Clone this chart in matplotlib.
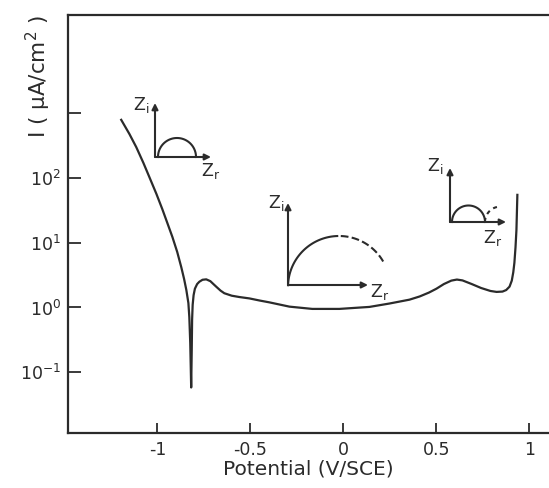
import numpy as np
import matplotlib
matplotlib.use('Agg')
import matplotlib.pyplot as plt

plt.rcParams['font.family'] = 'DejaVu Sans'
plt.rcParams['mathtext.default'] = 'regular'

# courbe de polarisation, I en uA/cm2
potentiel = [-1.194, -1.150, -1.113, -1.075, -1.043, -1.005, -0.973, -0.945, -0.919,
             -0.893, -0.871, -0.856, -0.844, -0.833, -0.828, -0.823, -0.818,
             -0.815, -0.813, -0.810, -0.805, -0.798, -0.786, -0.774, -0.757, -0.737,
             -0.715, -0.695, -0.683, -0.660, -0.640, -0.600, -0.559, -0.505, -0.450,
             -0.398, -0.290, -0.167, -0.022, 0.140, 0.247, 0.355, 0.410, 0.460,
             0.500, 0.540, 0.580, 0.610, 0.640, 0.690, 0.740, 0.790, 0.823, 0.855,
             0.875, 0.893, 0.905, 0.913, 0.919, 0.925, 0.930, 0.935]
courant = [794, 480, 300, 172, 104, 57, 33, 19.8, 12.3,
           7.2, 4.17, 2.75, 1.86, 1.17, 0.71, 0.28, 0.058,
           0.22, 0.65, 1.10, 1.55, 1.95, 2.30, 2.50, 2.68, 2.72,
           2.55, 2.25, 2.09, 1.82, 1.66, 1.52, 1.45, 1.38, 1.28,
           1.20, 1.03, 0.95, 0.95, 1.02, 1.15, 1.32, 1.48, 1.70,
           1.95, 2.30, 2.60, 2.70, 2.62, 2.30, 2.00, 1.80, 1.74, 1.76,
           1.86, 2.10, 2.60, 3.50, 4.9, 8.5, 15.8, 55]

x_ticks = [-1, -0.5, 0, 0.5, 1]
x_labels = ['-1', '-0.5', '0', '0.5', '1']
y_ticks = [1e-1, 1e0, 1e1, 1e2, 1e3]
y_labels = ['$10^{-1}$', '$10^{0}$', '$10^{1}$', '$10^{2}$', '']

# petits diagrammes de Nyquist (centre, rayon, angles de debut/fin en degres)
nyq1_arc = [(22, 0, 19, 180, 0, '-')]
nyq2_arc = [(51, -2, 51, 178, 92, '-'), (51, -2, 51, 88, 30, '--')]
nyq3_arc = [(18.5, 0, 16.5, 180, 0, '-'), (50.4, 0, 15.4, 180, 103, (0, (2, 2)))]

W, H = 549, 488
ink = '#2b2b2b'

fig = plt.figure(figsize=(W/100, H/100), dpi=100)
ax = fig.add_axes([68/W, 1-433/H, 481/W, 418/H])
ax.semilogy(potentiel, courant, color=ink, lw=1.6)
ax.set_xlim(-1.48, 1.105)
ax.set_ylim(10**-1.94, 10**4.52)
ax.set_xticks(x_ticks)
ax.set_xticklabels(x_labels)
ax.set_yticks(y_ticks)
ax.set_yticklabels(y_labels)
ax.minorticks_off()
ax.tick_params(axis='both', direction='in', colors=ink, labelsize=12.5, width=1.3)
ax.tick_params(axis='x', length=7, pad=6)
ax.tick_params(axis='y', length=9, pad=5)
ax.spines['right'].set_visible(False)
for s in ['left', 'top', 'bottom']:
    ax.spines[s].set_linewidth(1.6)
    ax.spines[s].set_color(ink)
ax.set_xlabel('Potential (V/SCE)', fontsize=14.5, color=ink, labelpad=0)
fig.text(38/W, 1-77/H, 'I ( μA/cm$^2$ )', rotation=90, ha='center', va='center',
         fontsize=15.5, color=ink)


def nyquist(ox, oy, lx, ly, arcs, zi_pos, zr_pos):
    a = fig.add_axes([ox/W, 1-oy/H, lx/W, ly/H])
    a.set_xlim(0, lx)
    a.set_ylim(0, ly)
    a.axis('off')
    a.patch.set_alpha(0)
    arr = dict(arrowstyle='-|>', lw=1.5, color=ink, mutation_scale=9,
               shrinkA=0, shrinkB=0)
    a.annotate('', xy=(lx, 0), xytext=(0, 0), arrowprops=arr, annotation_clip=False)
    a.annotate('', xy=(0, ly), xytext=(0, 0), arrowprops=arr, annotation_clip=False)
    for cx, cy, r, t0, t1, ls in arcs:
        t = np.radians(np.linspace(t0, t1, 60))
        a.plot(cx + r*np.cos(t), cy + r*np.sin(t), color=ink, lw=1.5, ls=ls,
               clip_on=False)
    a.text(zi_pos[0], zi_pos[1], '$Z_i$', fontsize=12.5, color=ink,
           ha='center', va='center', clip_on=False)
    a.text(zr_pos[0], zr_pos[1], '$Z_r$', fontsize=12.5, color=ink,
           ha='center', va='center', clip_on=False)
    return a


nyquist(155, 157, 56, 54, nyq1_arc, (-14, 52), (56, -14))
nyquist(288, 285, 80, 82, nyq2_arc, (-12, 82), (92, -7))
nyquist(450, 222, 56, 54, nyq3_arc, (-15, 56), (43, -16))

fig.savefig('out.png', dpi=100, facecolor='white')
